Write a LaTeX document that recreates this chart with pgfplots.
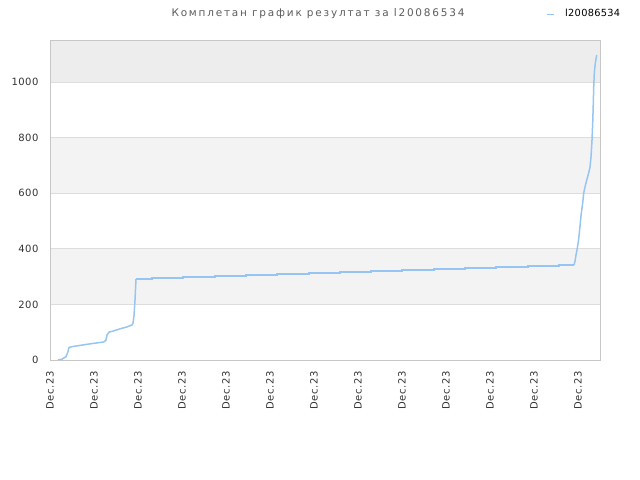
\documentclass[border=0pt]{standalone}
\usepackage{pgfplots}
\pgfplotsset{compat=1.18}
\usepackage{fontspec}
\setmainfont{DejaVu Sans}
\definecolor{bandA}{HTML}{F3F3F3}
\definecolor{bandB}{HTML}{EDEDED}
\definecolor{gridc}{HTML}{DDDDDD}
\definecolor{linec}{HTML}{97C5F3}
\definecolor{txt}{HTML}{333333}
\begin{document}
\begin{tikzpicture}[x=1bp,y=1bp]
\path (0,0) rectangle (640,480);
\node[text=txt!80, font=\fontsize{10.5bp}{12bp}\selectfont\addfontfeatures{LetterSpace=17}, anchor=base] at (318,463) {Комплетан график резултат за l20086534};
\draw[linec, line width=1.5bp] (547,465.5) -- (554,465.5);
\node[anchor=base west, font=\fontsize{9.8bp}{11bp}\selectfont\addfontfeatures{LetterSpace=3}, inner sep=0pt] at (565,463) {l20086534};
\begin{axis}[
  set layers,
  at={(50bp,120bp)}, anchor=south west,
  scale only axis, width=550bp, height=320bp,
  xmin=0, xmax=550, ymin=0, ymax=1151,
  xtick={0,44,...,528},
  xticklabels={Dec.23,Dec.23,Dec.23,Dec.23,Dec.23,Dec.23,Dec.23,Dec.23,Dec.23,Dec.23,Dec.23,Dec.23,Dec.23},
  x tick label style={rotate=90, anchor=east, font=\fontsize{10bp}{11bp}\selectfont\addfontfeatures{LetterSpace=5}, text=txt},
  xticklabel shift={8bp},
  ytick={0,200,400,600,800,1000},
  y tick label style={font=\fontsize{10bp}{11bp}\selectfont\addfontfeatures{LetterSpace=5}, text=txt},
  yticklabel shift={8bp},
  /pgf/number format/assume math mode=true,
  /pgf/number format/1000 sep={},
  ymajorgrids, grid style={gridc, line width=0.8bp},
  axis line style={draw=gridc!90!black, line width=0.8bp},
  major tick length=0pt,
  tick style={draw=none},
]
\begin{pgfonlayer}{axis background}
\fill[bandA] (axis cs:0,200) rectangle (axis cs:550,400);
\fill[bandA] (axis cs:0,600) rectangle (axis cs:550,800);
\fill[bandB] (axis cs:0,1000) rectangle (axis cs:550,1151);
\end{pgfonlayer}
\addplot[sharp plot, linec, line width=1.5bp, mark=none] coordinates {
(8,0) (12,3) (16,12) (18,30) (19,45) (22,48) (38,57) (54,65) (56,72) (57,90) (59,100) (63,104) (70,112) (77,119) (82,126) (83,133) (84,160) (85,216) (86,291)
};
\addplot[const plot, linec, line width=1.5bp, mark=none] coordinates {
(86,291) (102,295) (133,299) (165,302) (196,306) (227,309) (259,313) (290,317) (321,320) (352,324) (384,327) (415,331) (446,335) (478,338) (509,342) (524,342)
};
\addplot[sharp plot, linec, line width=1.5bp, mark=none] coordinates {
(524,342) (525,355) (526,378) (527,396) (528.5,430) (529.3,457) (530.3,493) (531.3,529) (532.7,565) (533.7,601) (535,622) (536.7,647) (538.7,673) (540,694) (541,730) (542,791) (542.7,853) (543.3,924) (543.7,982) (544.3,1032) (545.3,1068) (546.7,1097)
};
\end{axis}
\end{tikzpicture}
\end{document}
